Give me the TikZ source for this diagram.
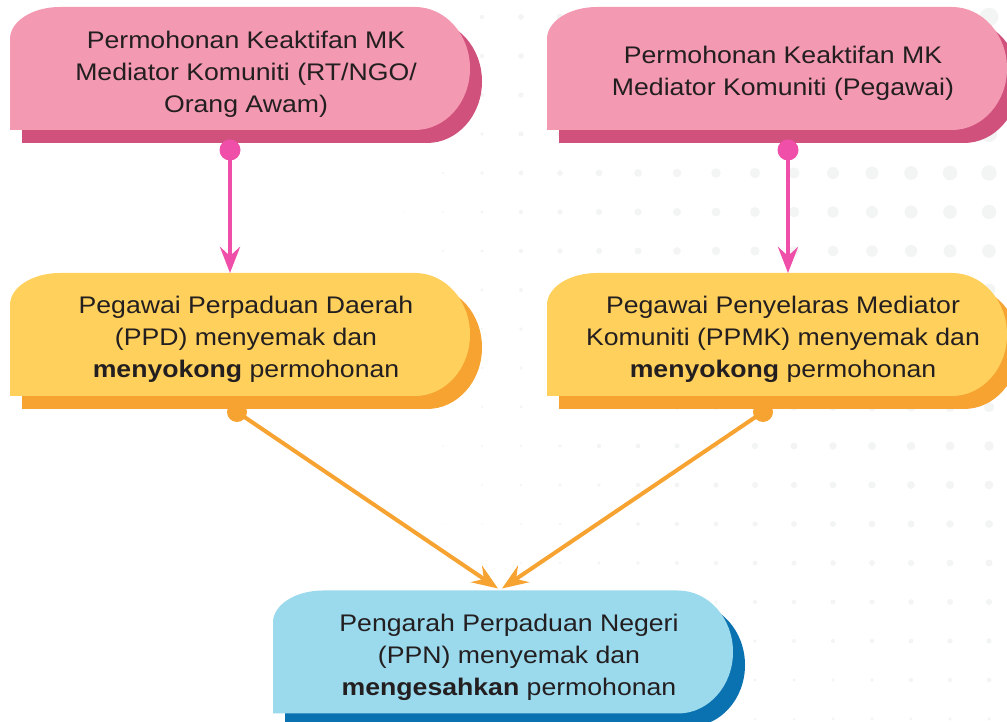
\documentclass[tikz,border=0pt]{standalone}
\usepackage{fontspec}
\setmainfont[FakeStretch=1.11]{Liberation Sans}
\usetikzlibrary{arrows.meta,calc}

\definecolor{ink}{HTML}{231F20}
\definecolor{pinkface}{HTML}{F399B2}
\definecolor{pinkshade}{HTML}{D1517D}
\definecolor{pinkline}{HTML}{EF4FA8}
\definecolor{yellowface}{HTML}{FFD15C}
\definecolor{yellowshade}{HTML}{F6A331}
\definecolor{orangeline}{HTML}{F6A331}
\definecolor{blueface}{HTML}{9BD9EC}
\definecolor{blueshade}{HTML}{0A72B1}
\definecolor{dotgrey}{HTML}{F3F4F4}

\tikzset{
  boxarea/.style={minimum width=460pt, minimum height=123pt, inner sep=0pt, outer sep=0pt},
  boxtext/.style={align=center, text=ink, inner sep=0pt,
    font=\fontsize{24}{32}\selectfont},
  pinkarrow/.style={draw=pinkline, line width=4.5pt,
    -{Stealth[length=26pt,width=20pt,inset=9pt]}},
  orangearrow/.style={draw=orangeline, line width=4pt,
    -{Stealth[length=26pt,width=20pt,inset=9pt]}},
}

% capsule box: square bottom-left, rounded top-left, half-round right end,
% with a darker copy offset behind it
\newcommand\flowbox[5]{%
  \node[boxarea] (#1) at (#2,#3) {};
  \fill[#5] ($(#1.south west)+(12,-13)$) -- ++(0,91)
    arc[start angle=180,end angle=90,x radius=50,y radius=32] -- ++(355,0)
    arc[start angle=90,end angle=-90,x radius=55,y radius=61.5] -- cycle;
  \fill[#4] (#1.south west) -- ++(0,91)
    arc[start angle=180,end angle=90,x radius=50,y radius=32] -- ++(355,0)
    arc[start angle=90,end angle=-90,x radius=55,y radius=61.5] -- cycle;
}

\begin{document}
\begin{tikzpicture}[x=1pt,y=1pt]
\useasboundingbox (0,0) rectangle (1007,722);

% faint dotted backdrop, dots growing towards the upper right
\foreach \i in {0,...,15}{
  \foreach \j in {0,...,18}{
    \pgfmathsetmacro\dx{404+39*\i}
    \pgfmathsetmacro\dy{17+39*\j}
    \pgfmathsetmacro\dr{max(0.3,9.5*((\dx-380)/609)^0.8*(1-\dy/900))}
    \fill[dotgrey] (\dx,722-\dy) circle[radius=\dr];
  }
}

% boxes
\flowbox{req1}{240}{653.5}{pinkface}{pinkshade}
\flowbox{req2}{777}{653.5}{pinkface}{pinkshade}
\flowbox{ppd}{240}{387.5}{yellowface}{yellowshade}
\flowbox{ppmk}{777}{387.5}{yellowface}{yellowshade}
\flowbox{ppn}{503}{70}{blueface}{blueshade}

% box texts
\node[boxtext] (req1-text) at ($(req1)+(6,-6)$)
  {Permohonan Keaktifan MK\\Mediator Komuniti (RT/NGO/\\Orang Awam)};
\node[boxtext] (req2-text) at ($(req2)+(6,-5)$)
  {Permohonan Keaktifan MK\\Mediator Komuniti (Pegawai)};
\node[boxtext] (ppd-text) at ($(ppd)+(6,-5)$)
  {Pegawai Perpaduan Daerah\\(PPD) menyemak dan\\\textbf{menyokong} permohonan};
\node[boxtext] (ppmk-text) at ($(ppmk)+(6,-5)$)
  {Pegawai Penyelaras Mediator\\Komuniti (PPMK) menyemak dan\\\textbf{menyokong} permohonan};
\node[boxtext] (ppn-text) at ($(ppn)+(6,-5)$)
  {Pengarah Perpaduan Negeri\\(PPN) menyemak dan\\\textbf{mengesahkan} permohonan};

% connector end points
\coordinate (s1) at ($(req1.south)+(-10,-20)$);
\coordinate (s2) at ($(req2.south)+(11,-20)$);
\coordinate (s3) at ($(ppd.south)+(-3,-16)$);
\coordinate (s4) at ($(ppmk.south)+(-14,-16)$);
\coordinate (t3) at ($(ppn.north)+(-5,2)$);
\coordinate (t4) at ($(ppn.north)+(-1,2)$);

% connectors
\draw[pinkarrow] (s1) -- (s1 |- ppd.north);
\draw[pinkarrow] (s2) -- (s2 |- ppmk.north);
\fill[pinkline] (s1) circle[radius=10.5];
\fill[pinkline] (s2) circle[radius=10.5];
\draw[orangearrow] (s3) -- (t3);
\draw[orangearrow] (s4) -- (t4);
\fill[orangeline] (s3) circle[radius=10];
\fill[orangeline] (s4) circle[radius=10];
\end{tikzpicture}
\end{document}
